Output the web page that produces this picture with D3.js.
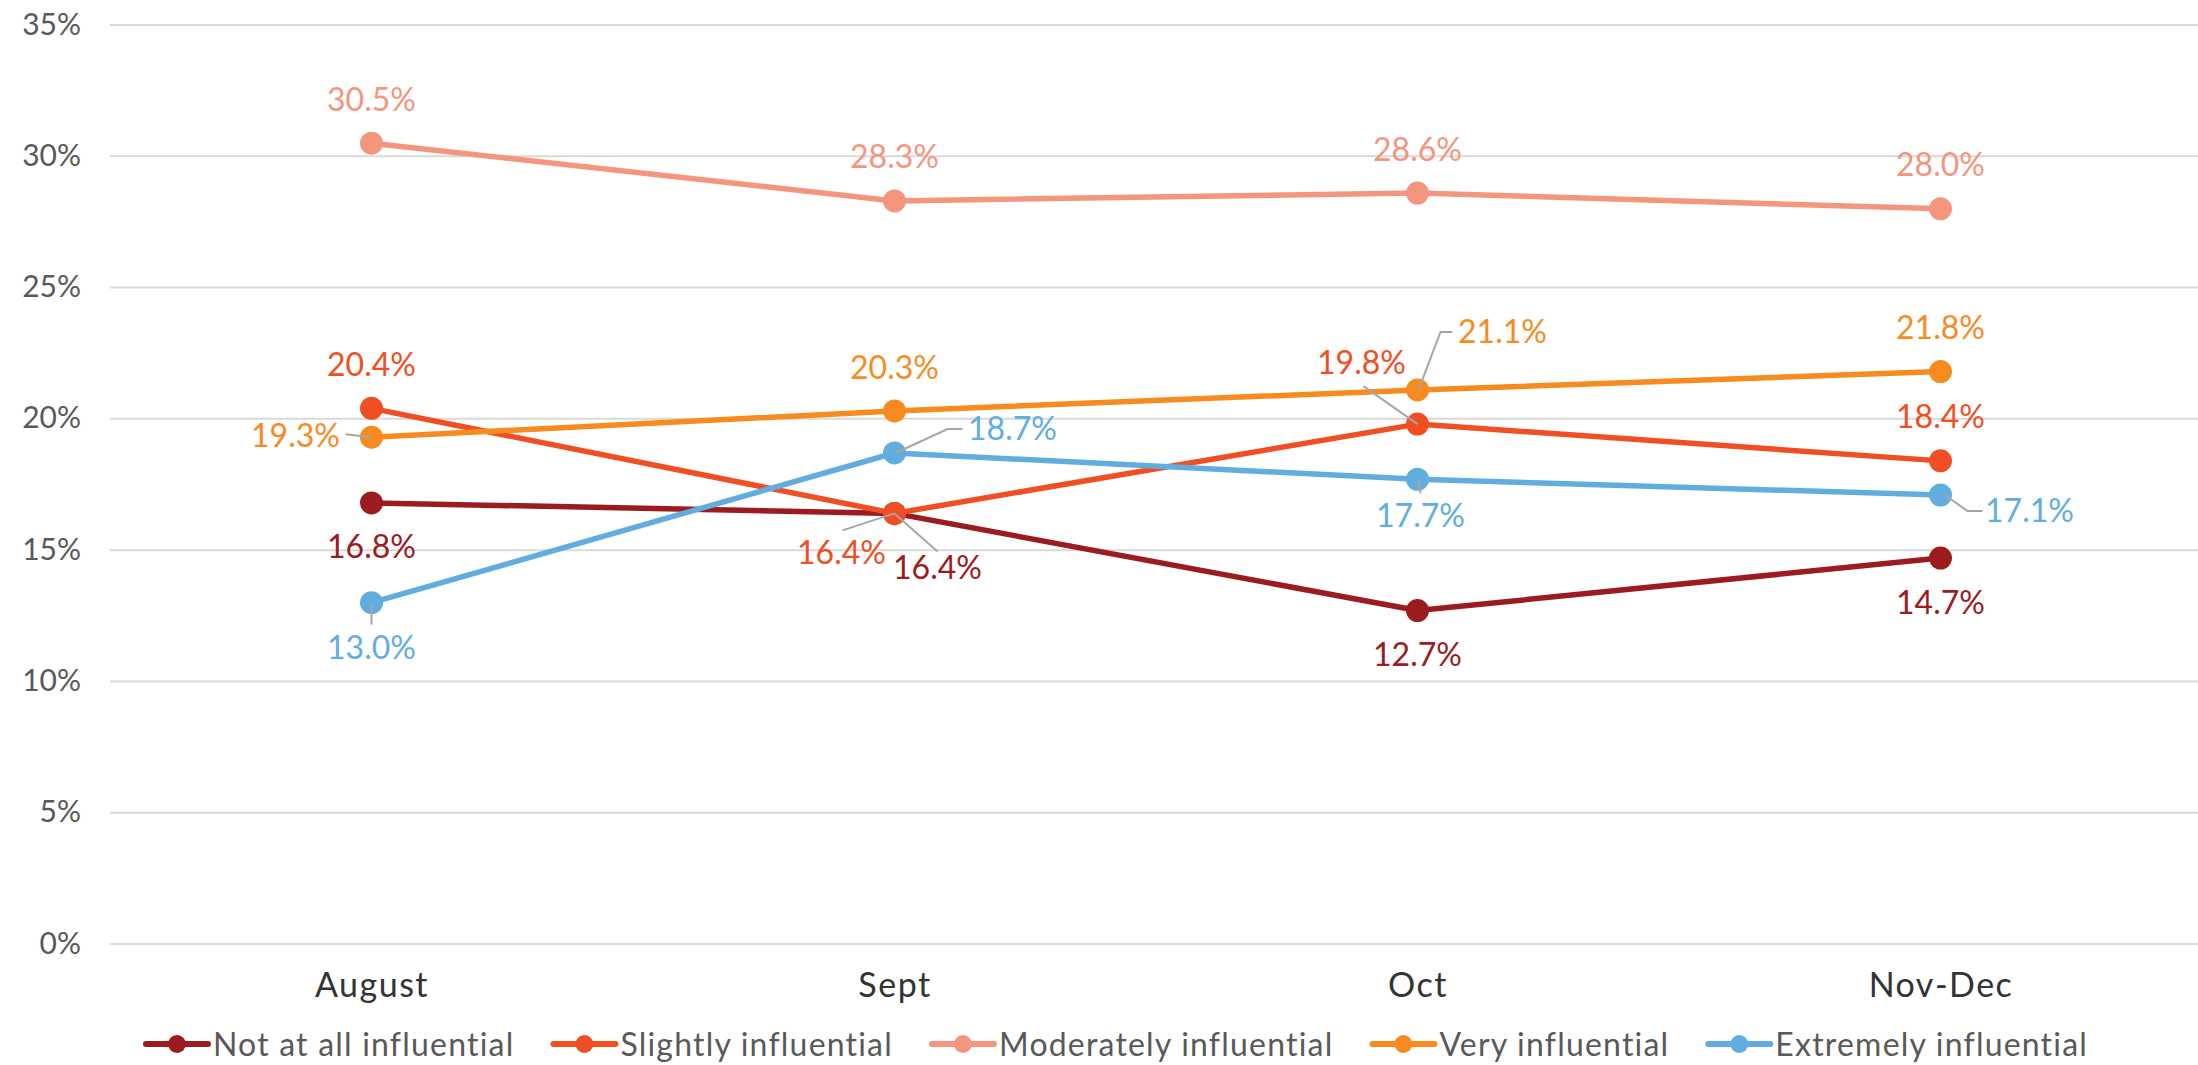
<!DOCTYPE html>
<html>
<head>
<meta charset="utf-8">
<script src="https://cdn.jsdelivr.net/npm/d3@7"></script>
<style>
  body { margin: 0; background: #fff; }
  text { font-family: Lato, "Open Sans", sans-serif; font-weight: 400; }
</style>
</head>
<body>
<svg id="chart"></svg>
<script>
// data
const months = ["August", "Sept", "Oct", "Nov-Dec"];
const seriesNames = ["Not at all influential", "Slightly influential", "Moderately influential", "Very influential", "Extremely influential"];
const notAtAll = [16.8, 16.4, 12.7, 14.7];
const slightly = [20.4, 16.4, 19.8, 18.4];
const moderately = [30.5, 28.3, 28.6, 28.0];
const very = [19.3, 20.3, 21.1, 21.8];
const extremely = [13.0, 18.7, 17.7, 17.1];
const yTicks = [0, 5, 10, 15, 20, 25, 30, 35];
const seriesColors = ["#9B1B1F", "#F04E23", "#F4957D", "#F78B1F", "#62ADDF"];

const allValues = [notAtAll, slightly, moderately, very, extremely];

// label placement (offsets from the marker, optional leader line)
const above = {dx: 0, dy: -44};
const below = {dx: 0, dy: 44};
const labelPlacement = [
  [below, {dx: 43, dy: 54, leader: [[0, 0], [43, 38]]}, below, below],
  [above, {dx: -53, dy: 39, leader: [[0, 0], [-52, 17]]}, {dx: -56, dy: -62, leader: [[-54, -38], [0, 0]]}, above],
  [above, above, above, above],
  [{dx: -76, dy: -2, leader: [[-26, -3], [0, 0]]}, above, {dx: 85, dy: -58, leader: [[35, -58], [23, -58], [1, 0]]}, above],
  [{dx: 0, dy: 45, leader: [[0, 22], [0, 2]]}, {dx: 118, dy: -25, leader: [[68, -24], [53, -24], [1, 0]]}, {dx: 3, dy: 36, leader: [[1, 0], [3, 14]]}, {dx: 89, dy: 15, leader: [[3, -1], [27, 16], [42, 16]]}]
];

const w = 2198;
const h = 1065;

const svg = d3.select("#chart")
  .attr("width", w)
  .attr("height", h);

const x = d3.scalePoint()
  .domain(months)
  .range([110, 2202])
  .padding(0.5);

const y = d3.scaleLinear()
  .domain([0, 35])
  .range([944, 25]);

// gridlines
svg.append("g")
  .selectAll("line")
  .data(yTicks)
  .enter()
  .append("line")
  .attr("x1", 110)
  .attr("x2", 2198)
  .attr("y1", d => y(d))
  .attr("y2", d => y(d))
  .attr("stroke", "#D9D9D9")
  .attr("stroke-width", 2);

// y axis
const yAxis = svg.append("g")
  .attr("transform", "translate(110,0)")
  .call(d3.axisLeft(y).tickValues(yTicks).tickSize(0).tickPadding(29).tickFormat(d => d + "%"));
yAxis.select(".domain").remove();
yAxis.selectAll("text")
  .style("font-size", "30px")
  .attr("fill", "#595959")
  .attr("dy", "0.3em");

// x axis
const xAxis = svg.append("g")
  .attr("transform", "translate(0,944)")
  .call(d3.axisBottom(x).tickSize(0).tickPadding(29));
xAxis.select(".domain").remove();
xAxis.selectAll("text")
  .style("font-size", "34px")
  .style("letter-spacing", "1.5px")
  .attr("fill", "#333333");

const line = d3.line()
  .x((d, i) => x(months[i]))
  .y(d => y(d));

// lines + markers
const series = svg.selectAll(".series")
  .data(allValues)
  .enter()
  .append("g")
  .attr("class", "series");

series.append("path")
  .attr("d", d => line(d))
  .attr("fill", "none")
  .attr("stroke", (d, i) => seriesColors[i])
  .attr("stroke-width", 5.5)
  .attr("stroke-linejoin", "round");

series.each(function(vals, si) {
  d3.select(this).selectAll("circle")
    .data(vals)
    .enter()
    .append("circle")
    .attr("cx", (d, i) => x(months[i]))
    .attr("cy", d => y(d))
    .attr("r", 11.5)
    .attr("fill", seriesColors[si]);
});

// leader lines and labels
const labelLayer = svg.append("g");
allValues.forEach((vals, si) => {
  vals.forEach((v, i) => {
    const px = x(months[i]);
    const py = y(v);
    const p = labelPlacement[si][i];
    if (p.leader) {
      labelLayer.append("path")
        .attr("d", d3.line()(p.leader.map(q => [px + q[0], py + q[1]])))
        .attr("fill", "none")
        .attr("stroke", "#A6A6A6")
        .attr("stroke-width", 2);
    }
    labelLayer.append("text")
      .attr("x", px + p.dx)
      .attr("y", py + p.dy)
      .attr("dy", "0.36em")
      .attr("text-anchor", "middle")
      .style("font-size", "32px")
      .attr("fill", seriesColors[si])
      .text(v.toFixed(1) + "%");
  });
});

// legend
const legend = svg.append("g")
  .attr("transform", "translate(0,1044)");

const legendItem = legend.selectAll("g")
  .data(seriesNames)
  .enter()
  .append("g");

legendItem.append("line")
  .attr("x1", 0)
  .attr("x2", 62)
  .attr("stroke", (d, i) => seriesColors[i])
  .attr("stroke-width", 6)
  .attr("stroke-linecap", "round");

legendItem.append("circle")
  .attr("cx", 31)
  .attr("r", 9)
  .attr("fill", (d, i) => seriesColors[i]);

legendItem.append("text")
  .attr("x", 67)
  .attr("dy", "0.36em")
  .style("font-size", "32px")
  .style("letter-spacing", "1.2px")
  .attr("fill", "#595959")
  .text(d => d);

let widths = [];
legendItem.select("text").each(function() { widths.push(this.getComputedTextLength()); });
const gap = 39;
const total = d3.sum(widths) + widths.length * 67 + (widths.length - 1) * gap;
let cursor = 1117 - total / 2;
legendItem.attr("transform", (d, i) => {
  const t = `translate(${cursor},0)`;
  cursor += 67 + widths[i] + gap;
  return t;
});
</script>
</body>
</html>
